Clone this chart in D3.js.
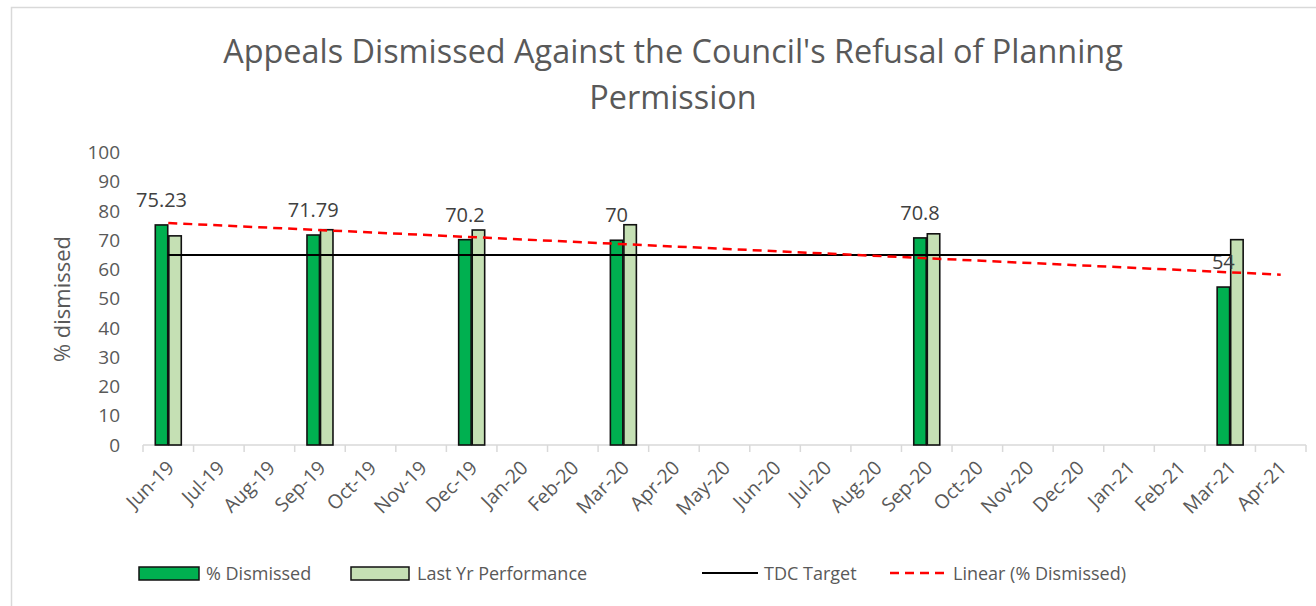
<!DOCTYPE html>
<html>
<head>
<meta charset="utf-8">
<script src="https://cdnjs.cloudflare.com/ajax/libs/d3/7.8.5/d3.min.js"></script>
<style>
  body { margin: 0; background: #fff; }
  text { font-family: "Open Sans", "Noto Sans", sans-serif; fill: #595959; }
</style>
</head>
<body>
<div id="chart"></div>
<script>
// data
const months = ["Jun-19", "Jul-19", "Aug-19", "Sep-19", "Oct-19", "Nov-19", "Dec-19",
  "Jan-20", "Feb-20", "Mar-20", "Apr-20", "May-20", "Jun-20", "Jul-20", "Aug-20",
  "Sep-20", "Oct-20", "Nov-20", "Dec-20", "Jan-21", "Feb-21", "Mar-21", "Apr-21"];
const periods = ["Jun-19", "Sep-19", "Dec-19", "Mar-20", "Sep-20", "Mar-21"];
const dismissed = [75.23, 71.79, 70.2, 70, 70.8, 54];
const lastYear = [71.5, 73.6, 73.5, 75.3, 72.2, 70.2];
const target = [65, 65, 65, 65, 65, 65];
const yTicks = [0, 10, 20, 30, 40, 50, 60, 70, 80, 90, 100];

const W = 1316, H = 606;

const svg = d3.select("#chart").append("svg")
  .attr("width", W)
  .attr("height", H);

svg.append("rect").attr("width", W).attr("height", H).attr("fill", "#fff");
// chart frame
svg.append("rect")
  .attr("x", 11.5).attr("y", 7.5)
  .attr("width", W + 10).attr("height", H + 10)
  .attr("fill", "none").attr("stroke", "#d9d9d9").attr("stroke-width", 1.5);

// title
svg.append("text")
  .attr("x", 673).attr("y", 63)
  .attr("text-anchor", "middle")
  .style("font-size", "32.4px")
  .text("Appeals Dismissed Against the Council's Refusal of Planning");
svg.append("text")
  .attr("x", 673).attr("y", 109)
  .attr("text-anchor", "middle")
  .style("font-size", "32.4px")
  .text("Permission");

// scales
const x = d3.scaleBand().domain(months).range([143, 1306]);
const xSub = d3.scaleBand()
  .domain(["dismissed", "last"])
  .range([x.bandwidth() / 2 - 13, x.bandwidth() / 2 + 13])
  .paddingInner(0.08);
const y = d3.scaleLinear().domain([0, 100]).range([445, 152.5]);
const xc = m => x(m) + x.bandwidth() / 2;

// y axis
const yAxis = svg.append("g")
  .attr("transform", "translate(143,0)")
  .call(d3.axisLeft(y).tickValues(yTicks).tickSize(0).tickPadding(23));
yAxis.select(".domain").remove();
yAxis.selectAll("text")
  .style("font-size", "19px")
  .style("font-family", null)
  .attr("fill", null);

svg.append("text")
  .attr("transform", "translate(70,299) rotate(-90)")
  .attr("text-anchor", "middle")
  .style("font-size", "22px")
  .text("% dismissed");

// x axis
const xAxis = svg.append("g")
  .attr("transform", "translate(0,445)")
  .call(d3.axisBottom(x).tickSize(0).tickPadding(0));
xAxis.select(".domain").attr("stroke", "#d9d9d9").attr("stroke-width", 1.5)
  .attr("d", "M143,0H1306");
xAxis.selectAll(".tick text")
  .style("font-size", "19.5px")
  .style("font-family", null)
  .attr("fill", null)
  .attr("text-anchor", "end")
  .attr("dy", null)
  .attr("y", 0)
  .attr("transform", "translate(7,24) rotate(-45)");

// boundary tick marks
const bounds = months.map(m => x(m)).concat([x(months[months.length - 1]) + x.bandwidth()]);
svg.append("g").selectAll("line")
  .data(bounds)
  .enter()
  .append("line")
  .attr("x1", d => d).attr("x2", d => d)
  .attr("y1", 445).attr("y2", 452)
  .attr("stroke", "#d9d9d9").attr("stroke-width", 1.5);

// bars
const rows = periods.map((p, i) => ({ p: p, dismissed: dismissed[i], last: lastYear[i], target: target[i] }));

const groups = svg.append("g").selectAll("g")
  .data(rows)
  .enter()
  .append("g")
  .attr("transform", d => "translate(" + x(d.p) + ",0)");

groups.append("rect")
  .attr("x", xSub("last"))
  .attr("width", xSub.bandwidth())
  .attr("y", d => y(d.last))
  .attr("height", d => y(0) - y(d.last))
  .attr("fill", "#c5e0b4")
  .attr("stroke", "#111").attr("stroke-width", 1.6);

groups.append("rect")
  .attr("x", xSub("dismissed"))
  .attr("width", xSub.bandwidth())
  .attr("y", d => y(d.dismissed))
  .attr("height", d => y(0) - y(d.dismissed))
  .attr("fill", "#00b050")
  .attr("stroke", "#111").attr("stroke-width", 1.6);

// target line
svg.append("path")
  .datum(rows)
  .attr("fill", "none")
  .attr("stroke", "#000")
  .attr("stroke-width", 2)
  .attr("d", d3.line().x(d => xc(d.p)).y(d => y(d.target)));

// linear trend of % dismissed against month position
const pts = rows.map(d => [months.indexOf(d.p), d.dismissed]);
const mx = d3.mean(pts, d => d[0]), my = d3.mean(pts, d => d[1]);
const slope = d3.sum(pts, d => (d[0] - mx) * (d[1] - my)) / d3.sum(pts, d => (d[0] - mx) ** 2);
const icpt = my - slope * mx;
const trend = [0, months.length - 1].map(i => ({ m: months[i], v: icpt + slope * i }));
svg.append("path")
  .datum(trend)
  .attr("fill", "none")
  .attr("stroke", "#ff0000")
  .attr("stroke-width", 2.5)
  .attr("stroke-dasharray", "9,6")
  .attr("d", d3.line().x(d => xc(d.m)).y(d => y(d.v)));

// data labels
groups.append("text")
  .attr("x", xSub("dismissed") + xSub.bandwidth() / 2)
  .attr("y", d => y(d.dismissed) - 18)
  .attr("text-anchor", "middle")
  .style("font-size", "20px")
  .style("fill", "#404040")
  .text(d => d.dismissed);

// legend
const legend = svg.append("g").attr("transform", "translate(0,574)");
legend.append("rect").attr("x", 139).attr("y", -7).attr("width", 60).attr("height", 13)
  .attr("fill", "#00b050").attr("stroke", "#111").attr("stroke-width", 1.5);
legend.append("text").attr("x", 206).attr("y", 6).style("font-size", "18px").text("% Dismissed");
legend.append("rect").attr("x", 351).attr("y", -7).attr("width", 58).attr("height", 13)
  .attr("fill", "#c5e0b4").attr("stroke", "#111").attr("stroke-width", 1.5);
legend.append("text").attr("x", 417).attr("y", 6).style("font-size", "18px").text("Last Yr Performance");
legend.append("line").attr("x1", 702).attr("x2", 758).attr("y1", -1).attr("y2", -1)
  .attr("stroke", "#000").attr("stroke-width", 2);
legend.append("text").attr("x", 764).attr("y", 6).style("font-size", "18px").text("TDC Target");
legend.append("line").attr("x1", 890).attr("x2", 946).attr("y1", -1).attr("y2", -1)
  .attr("stroke", "#ff0000").attr("stroke-width", 2.5).attr("stroke-dasharray", "9,6");
legend.append("text").attr("x", 953).attr("y", 6).style("font-size", "18px").text("Linear (% Dismissed)");
</script>
</body>
</html>
